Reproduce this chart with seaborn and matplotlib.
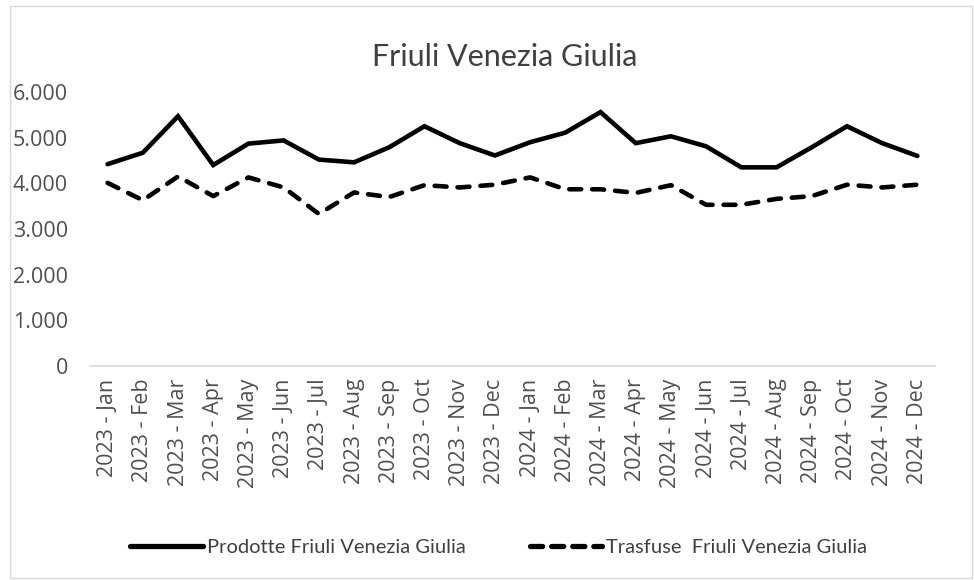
import numpy as np
import pandas as pd
import matplotlib.pyplot as plt
import seaborn as sns
from matplotlib.patches import Rectangle
from matplotlib.ticker import FuncFormatter

months = ['Jan', 'Feb', 'Mar', 'Apr', 'May', 'Jun', 'Jul', 'Aug', 'Sep', 'Oct', 'Nov', 'Dec']
labels = [f'{y} - {m}' for y in (2023, 2024) for m in months]

prodotte = [4420, 4670, 5470, 4400, 4870, 4940, 4520, 4460, 4790, 5250, 4880, 4610,
            4900, 5110, 5560, 4880, 5030, 4810, 4350, 4350, 4790, 5250, 4880, 4600]
trasfuse = [4010, 3630, 4150, 3720, 4130, 3910, 3330, 3800, 3700, 3960, 3910, 3970,
            4130, 3870, 3870, 3790, 3960, 3530, 3530, 3660, 3720, 3970, 3910, 3970]

name_p = 'Prodotte Friuli Venezia Giulia'
name_t = 'Trasfuse  Friuli Venezia Giulia'

df = pd.DataFrame({'Mese': labels * 2,
                   'Valore': prodotte + trasfuse,
                   'Serie': [name_p] * len(labels) + [name_t] * len(labels)})

sns.set_style('white')
plt.rcParams['font.family'] = ['Open Sans', 'DejaVu Sans']

fig = plt.figure(figsize=(9.74, 5.8), dpi=100)
ax = fig.add_axes([90 / 974, 1 - 366 / 580, 845 / 974, 274 / 580])

sns.lineplot(data=df, x='Mese', y='Valore', style='Serie',
             dashes={name_p: '', name_t: (2.6, 2.4)},
             color='black', linewidth=3.3, ax=ax, legend=False,
             solid_capstyle='round', dash_capstyle='round', solid_joinstyle='miter')

ax.set_xlim(-0.5, len(labels) - 0.5)
ax.set_ylim(0, 6000)
ax.set_yticks(np.arange(0, 6001, 1000))
ax.yaxis.set_major_formatter(FuncFormatter(lambda v, p: f'{int(v):,}'.replace(',', '.')))
ax.set_xlabel('')
ax.set_ylabel('')
ax.tick_params(axis='both', length=0, labelsize=15.5, colors='#505050')
ax.tick_params(axis='y', pad=16)
ax.tick_params(axis='x', pad=9)
plt.setp(ax.get_xticklabels(), rotation=90)
for s in ['top', 'right', 'left']:
    ax.spines[s].set_visible(False)
ax.spines['bottom'].set_color('#d9d9d9')
ax.spines['bottom'].set_linewidth(1.2)

fig.text(0.518, 1 - 57 / 580, 'Friuli Venezia Giulia', ha='center', va='center',
         fontsize=22, color='#404040', family=['Lato', 'DejaVu Sans'])

handles = [plt.Line2D([], [], color='black', lw=3.8, solid_capstyle='round'),
           plt.Line2D([], [], color='black', lw=3.8, linestyle=(0, (2.3, 1.7)),
                      dash_capstyle='round')]
fig.legend(handles, [name_p, name_t], loc='center', bbox_to_anchor=(0.512, 1 - 547 / 580),
           ncol=2, frameon=False, handlelength=3.6, handletextpad=0.2, columnspacing=3.2,
           prop={'family': ['Lato', 'DejaVu Sans'], 'size': 14.5}, labelcolor='#404040')

fig.add_artist(Rectangle((10 / 974, 2 / 580), 962 / 974, 572 / 580, transform=fig.transFigure,
                         fill=False, edgecolor='#d9d9d9', linewidth=1.0))

fig.savefig('out.png', dpi=100)
